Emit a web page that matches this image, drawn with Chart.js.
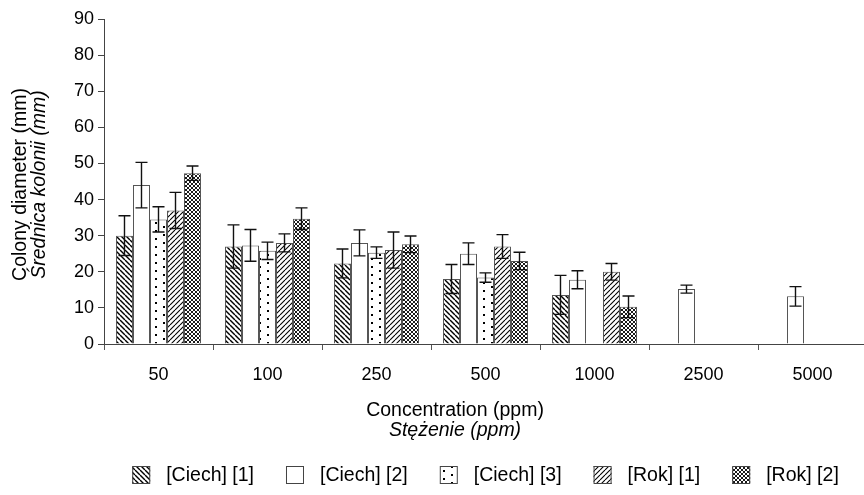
<!DOCTYPE html>
<html>
<head>
<meta charset="utf-8">
<script src="https://cdn.jsdelivr.net/npm/chart.js@4"></script>
<style>
  html, body { margin: 0; padding: 0; background: #fff; overflow: hidden; }
  #wrap { width: 868px; height: 495px; }
</style>
</head>
<body>
<div id="wrap"><canvas id="chart"></canvas></div>
<script>
// data
const categories = ["50", "100", "250", "500", "1000", "2500", "5000"];
const seriesNames = ["[Ciech] [1]", "[Ciech] [2]", "[Ciech] [3]", "[Rok] [1]", "[Rok] [2]"];

const ciech1 = [30, 27, 22.3, 18, 13.6, null, null];
const ciech1Err = [5.5, 6, 4, 4, 5.4, null, null];
const ciech2 = [44, 27.3, 28, 25, 17.8, 15.2, 13.2];
const ciech2Err = [6.3, 4.4, 3.6, 3, 2.5, 1.1, 2.7];
const ciech3 = [34.5, 25.8, 25.3, 18.4, null, null, null];
const ciech3Err = [3.5, 2.4, 1.6, 1.3, null, null, null];
const rok1 = [37, 28, 26, 27, 20, null, null];
const rok1Err = [5, 2.5, 5, 3.3, 2.3, null, null];
const rok2 = [47.3, 34.7, 27.6, 23, 10.3, null, null];
const rok2Err = [2, 3, 2.3, 2.4, 3, null, null];

const yTicks = [0, 10, 20, 30, 40, 50, 60, 70, 80, 90];

const FONT = "'Liberation Sans', Arial, sans-serif";

// fill patterns for the bars
function makePattern(kind) {
  const c = document.createElement("canvas");
  const ctx = c.getContext("2d");
  let w = 5, h = 5;
  if (kind === "dots") { w = 16; h = 8; }
  if (kind === "cross") { w = 4; h = 4; }
  c.width = w; c.height = h;
  ctx.fillStyle = "#fff";
  ctx.fillRect(0, 0, w, h);
  ctx.strokeStyle = "#000";
  ctx.fillStyle = "#000";
  if (kind === "back") {
    ctx.lineWidth = 1.4;
    for (let k = -1; k <= 1; k++) {
      ctx.beginPath(); ctx.moveTo(k * w, 0); ctx.lineTo(k * w + w, h); ctx.stroke();
    }
  } else if (kind === "fwd") {
    ctx.lineWidth = 1.1;
    for (let k = -1; k <= 1; k++) {
      ctx.beginPath(); ctx.moveTo(k * w, h); ctx.lineTo(k * w + w, 0); ctx.stroke();
    }
  } else if (kind === "dots") {
    ctx.fillRect(3, 2, 2, 2);
    ctx.fillRect(11, 6, 2, 2);
  } else if (kind === "cross") {
    ctx.lineWidth = 0.9;
    for (let k = -1; k <= 1; k++) {
      ctx.beginPath(); ctx.moveTo(k * w, 0); ctx.lineTo(k * w + w, h); ctx.stroke();
      ctx.beginPath(); ctx.moveTo(k * w, h); ctx.lineTo(k * w + w, 0); ctx.stroke();
    }
  }
  return document.getElementById("chart").getContext("2d").createPattern(c, "repeat");
}

const fills = [makePattern("back"), "#ffffff", makePattern("dots"), makePattern("fwd"), makePattern("cross")];
const values = [ciech1, ciech2, ciech3, rok1, rok2];
const errors = [ciech1Err, ciech2Err, ciech3Err, rok1Err, rok2Err];

const datasets = values.map((v, i) => ({
  label: seriesNames[i],
  data: v,
  errors: errors[i],
  backgroundColor: fills[i],
  borderColor: "#555",
  borderWidth: 1,
  barPercentage: 1.0,
  categoryPercentage: 0.78
}));

// error bars drawn through the scales
const errorBars = {
  id: "errorBars",
  afterDatasetsDraw(chart) {
    const ctx = chart.ctx;
    const y = chart.scales.y;
    ctx.save();
    ctx.strokeStyle = "#111";
    ctx.lineWidth = 1.4;
    chart.data.datasets.forEach((ds, i) => {
      const meta = chart.getDatasetMeta(i);
      meta.data.forEach((bar, j) => {
        const v = ds.data[j], e = ds.errors[j];
        if (v == null || e == null) return;
        const top = y.getPixelForValue(v + e);
        const bot = y.getPixelForValue(v - e);
        ctx.beginPath();
        ctx.moveTo(bar.x, top); ctx.lineTo(bar.x, bot);
        ctx.moveTo(bar.x - 6, top); ctx.lineTo(bar.x + 6, top);
        ctx.moveTo(bar.x - 6, bot); ctx.lineTo(bar.x + 6, bot);
        ctx.stroke();
      });
    });
    ctx.restore();
  }
};

// axis titles (second line italic) and the legend row
const titlesAndLegend = {
  id: "titlesAndLegend",
  afterDraw(chart) {
    const ctx = chart.ctx;
    const a = chart.chartArea;
    ctx.save();
    ctx.fillStyle = "#000";
    ctx.textAlign = "center";
    ctx.textBaseline = "middle";
    const cx = 455;
    ctx.font = "19.5px " + FONT;
    ctx.fillText("Concentration (ppm)", cx, a.bottom + 67);
    ctx.font = "italic 19.5px " + FONT;
    ctx.fillText("Stężenie (ppm)", cx, a.bottom + 87);

    ctx.save();
    ctx.translate(21, (a.top + a.bottom) / 2 + 3);
    ctx.rotate(-Math.PI / 2);
    ctx.font = "19.5px " + FONT;
    ctx.fillText("Colony diameter (mm)", 0, 0);
    ctx.font = "italic 19.5px " + FONT;
    ctx.fillText("Średnica kolonii (mm)", 0, 19);
    ctx.restore();

    // legend
    ctx.font = "19.5px " + FONT;
    ctx.textAlign = "left";
    const box = 18, gap = 16, space = 32;
    const widths = seriesNames.map(n => ctx.measureText(n).width);
    const total = widths.reduce((s, w) => s + w + box + gap, 0) + space * (seriesNames.length - 1);
    let x = (a.left + a.right) / 2 - total / 2;
    const yTop = 466;
    chart.data.datasets.forEach((ds, i) => {
      ctx.fillStyle = ds.backgroundColor;
      ctx.fillRect(x, yTop, box, box);
      ctx.strokeStyle = "#444";
      ctx.lineWidth = 1;
      ctx.strokeRect(x + 0.5, yTop + 0.5, box - 1, box - 1);
      ctx.fillStyle = "#000";
      ctx.fillText(ds.label, x + box + gap, yTop + box / 2 + 1);
      x += box + gap + widths[i] + space;
    });
    ctx.restore();
  }
};

new Chart(document.getElementById("chart"), {
  type: "bar",
  data: { labels: categories, datasets: datasets },
  options: {
    responsive: true,
    maintainAspectRatio: false,
    animation: false,
    devicePixelRatio: 1,
    layout: { padding: { top: 19, right: 1, left: 0, bottom: 51 } },
    plugins: {
      tooltip: { enabled: false },
      legend: { display: false }
    },
    scales: {
      x: {
        grid: { display: true, drawOnChartArea: false, drawTicks: true, tickLength: 6, color: "#555", offset: true },
        border: { display: true, color: "#444", width: 1 },
        ticks: { color: "#000", padding: 14, font: { family: FONT, size: 18 } },
        afterFit(scale) { scale.height = 100; }
      },
      y: {
        min: 0,
        max: 90,
        afterBuildTicks(scale) { scale.ticks = yTicks.map(v => ({ value: v })); },
        grid: { display: true, drawOnChartArea: false, drawTicks: true, tickLength: 6, color: "#444" },
        border: { display: true, color: "#444", width: 1 },
        ticks: { color: "#000", padding: 4, font: { family: FONT, size: 18 } },
        afterFit(scale) { scale.width = 104; }
      }
    }
  },
  plugins: [errorBars, titlesAndLegend]
});
</script>
</body>
</html>
